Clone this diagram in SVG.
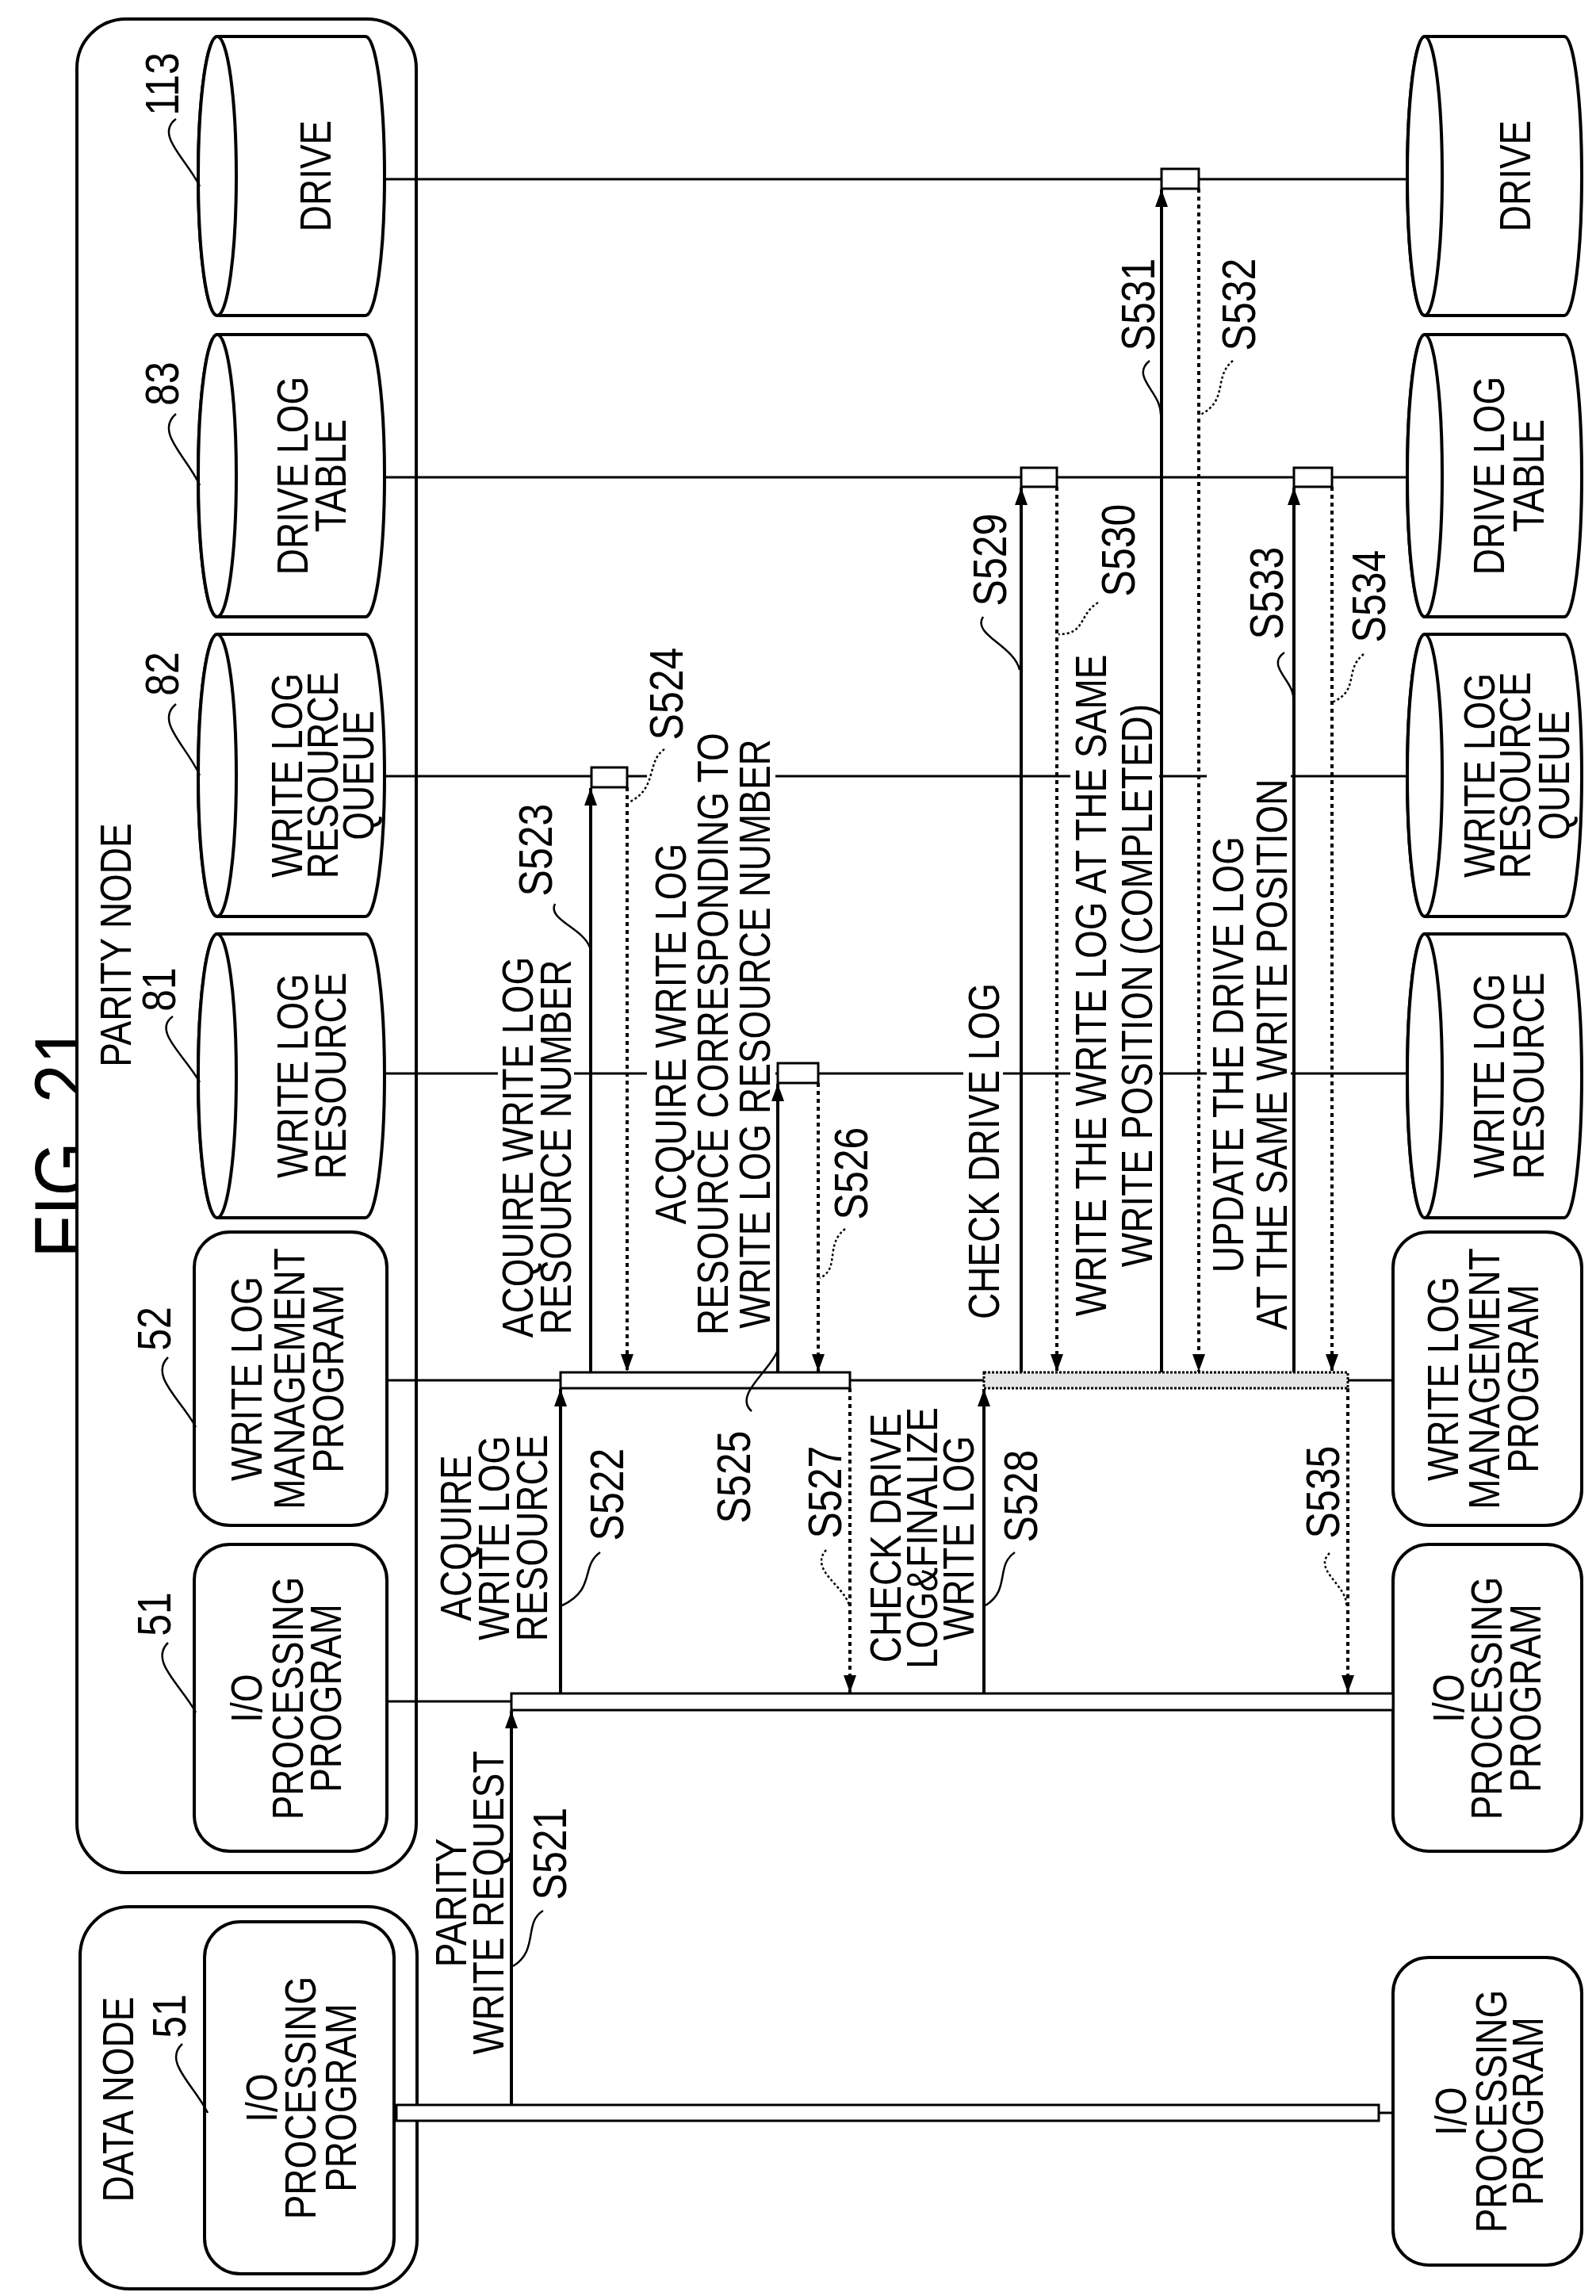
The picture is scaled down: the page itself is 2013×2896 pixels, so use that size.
<svg xmlns="http://www.w3.org/2000/svg" width="2013" height="2896" viewBox="0 0 2013 2896">
<style>
text{font-family:"Liberation Sans",Arial,sans-serif;font-size:46px;text-anchor:middle;fill:#000}
.s{font-size:50px}
.fig{font-size:88px}
.shape{fill:#fff;stroke:#000;stroke-width:4}
.life{stroke:#000;stroke-width:3;fill:none}
.ar{stroke:#000;stroke-width:4;fill:none;marker-end:url(#ah)}
.dt{stroke:#000;stroke-width:4;fill:none;stroke-dasharray:5,5;marker-end:url(#ah)}
.ld{stroke:#000;stroke-width:2.5;fill:none}
.ldd{stroke:#000;stroke-width:2.5;fill:none;stroke-dasharray:3,3}
.box{fill:#fff;stroke:#000;stroke-width:3}
</style>
<defs>
<marker id="ah" markerUnits="userSpaceOnUse" markerWidth="24" markerHeight="20" refX="22" refY="10" orient="auto"><path d="M0,2 L22,10 L0,18 Z" fill="#000"/></marker>
<path id="cylL" d="M274,0 L461,0 A24,1 0 0 1 461,0"/>
</defs>

<text class="fig" transform="translate(115,1440) rotate(-90) scale(1,1.15)">FIG. 21</text>

<g id="parity-node"><rect x="97" y="24" width="428" height="2338" rx="62" class="shape"/>
<text transform="translate(165,1192) rotate(-90) scale(1,1.2)">PARITY NODE</text></g>
<g id="data-node"><rect x="101" y="2405" width="425" height="482" rx="62" class="shape"/>
<text transform="translate(168,2648) rotate(-90) scale(1,1.2)">DATA NODE</text></g>

<g id="lifelines">
<line class="life" x1="485" y1="226" x2="1778" y2="226"/>
<line class="life" x1="485" y1="602" x2="1778" y2="602"/>
<line class="life" x1="485" y1="979" x2="1778" y2="979"/>
<line class="life" x1="485" y1="1354" x2="1778" y2="1354"/>
<line class="life" x1="488" y1="1741" x2="1757" y2="1741"/>
<line class="life" x1="488" y1="2146" x2="1757" y2="2146"/>
<line class="life" x1="497" y1="2665" x2="1757" y2="2665"/>
</g>

<g id="label-gaps" fill="#fff">
<rect x="628" y="1215" width="96" height="465"/>
<rect x="816" y="940" width="162" height="730"/>
<rect x="1215" y="1240" width="50" height="425"/>
<rect x="1350" y="815" width="112" height="857"/>
<rect x="1522" y="960" width="106" height="740"/>
</g>

<!-- left heads -->
<g id="drive-113"><path class="shape" d="M274,46 L461,46 A24,176 0 0 1 461,398 L274,398 A24,176 0 0 1 274,46 Z"/><ellipse cx="274" cy="222" rx="24" ry="176" class="shape"/>
<text transform="translate(417,222) rotate(-90) scale(1,1.2)">DRIVE</text>
<text class="s" transform="translate(225,106) rotate(-90) scale(1,1.2)">113</text></g>
<g id="dlt-83"><path class="shape" d="M274,422 L461,422 A24,178 0 0 1 461,778 L274,778 A24,178 0 0 1 274,422 Z"/><ellipse cx="274" cy="600" rx="24" ry="178" class="shape"/>
<text transform="translate(388,600) rotate(-90) scale(1,1.2)">DRIVE LOG</text>
<text transform="translate(436,600) rotate(-90) scale(1,1.2)">TABLE</text>
<text class="s" transform="translate(225,484) rotate(-90) scale(1,1.2)">83</text></g>
<g id="wlrq-82"><path class="shape" d="M274,800 L461,800 A24,178 0 0 1 461,1156 L274,1156 A24,178 0 0 1 274,800 Z"/><ellipse cx="274" cy="978" rx="24" ry="178" class="shape"/>
<text transform="translate(381,978) rotate(-90) scale(1,1.2)">WRITE LOG</text>
<text transform="translate(426,978) rotate(-90) scale(1,1.2)">RESOURCE</text>
<text transform="translate(471,978) rotate(-90) scale(1,1.2)">QUEUE</text>
<text class="s" transform="translate(225,850) rotate(-90) scale(1,1.2)">82</text></g>
<g id="wlr-81"><path class="shape" d="M274,1178 L461,1178 A24,179 0 0 1 461,1536 L274,1536 A24,179 0 0 1 274,1178 Z"/><ellipse cx="274" cy="1357" rx="24" ry="179" class="shape"/>
<text transform="translate(388,1357) rotate(-90) scale(1,1.2)">WRITE LOG</text>
<text transform="translate(436,1357) rotate(-90) scale(1,1.2)">RESOURCE</text>
<text class="s" transform="translate(221,1248) rotate(-90) scale(1,1.2)">81</text></g>
<g id="wlm-52"><rect x="245" y="1554" width="243" height="370" rx="45" class="shape"/>
<text transform="translate(330,1739) rotate(-90) scale(1,1.2)">WRITE LOG</text>
<text transform="translate(384,1739) rotate(-90) scale(1,1.2)">MANAGEMENT</text>
<text transform="translate(433,1739) rotate(-90) scale(1,1.2)">PROGRAM</text>
<text class="s" transform="translate(215,1676) rotate(-90) scale(1,1.2)">52</text></g>
<g id="io-51"><rect x="245" y="1948" width="243" height="387" rx="45" class="shape"/>
<text transform="translate(330,2142) rotate(-90) scale(1,1.2)">I/O</text>
<text transform="translate(382,2142) rotate(-90) scale(1,1.2)">PROCESSING</text>
<text transform="translate(430,2142) rotate(-90) scale(1,1.2)">PROGRAM</text>
<text class="s" transform="translate(215,2036) rotate(-90) scale(1,1.2)">51</text></g>
<g id="data-io-51"><rect x="258" y="2424" width="239" height="444" rx="45" class="shape"/>
<text transform="translate(349,2646) rotate(-90) scale(1,1.2)">I/O</text>
<text transform="translate(398,2646) rotate(-90) scale(1,1.2)">PROCESSING</text>
<text transform="translate(449,2646) rotate(-90) scale(1,1.2)">PROGRAM</text>
<text class="s" transform="translate(234,2543) rotate(-90) scale(1,1.2)">51</text></g>

<g id="leaders-num">
<path class="ld" d="M222,150 C195,170 235,200 252,235"/>
<path class="ld" d="M222,522 C195,545 235,575 252,612"/>
<path class="ld" d="M222,888 C195,910 235,940 252,978"/>
<path class="ld" d="M218,1282 C192,1300 232,1330 252,1365"/>
<path class="ld" d="M212,1712 C188,1735 228,1765 247,1800"/>
<path class="ld" d="M212,2072 C188,2095 228,2125 247,2160"/>
<path class="ld" d="M230,2578 C205,2600 245,2630 262,2665"/>
</g>

<!-- right heads -->
<g id="drive-r"><path class="shape" d="M1797,46 L1973,46 A22,176 0 0 1 1973,398 L1797,398 A22,176 0 0 1 1797,46 Z"/><ellipse cx="1797" cy="222" rx="22" ry="176" class="shape"/>
<text transform="translate(1930,222) rotate(-90) scale(1,1.2)">DRIVE</text></g>
<g id="dlt-r"><path class="shape" d="M1797,422 L1973,422 A22,178 0 0 1 1973,778 L1797,778 A22,178 0 0 1 1797,422 Z"/><ellipse cx="1797" cy="600" rx="22" ry="178" class="shape"/>
<text transform="translate(1897,600) rotate(-90) scale(1,1.2)">DRIVE LOG</text>
<text transform="translate(1947,600) rotate(-90) scale(1,1.2)">TABLE</text></g>
<g id="wlrq-r"><path class="shape" d="M1797,800 L1973,800 A22,178 0 0 1 1973,1156 L1797,1156 A22,178 0 0 1 1797,800 Z"/><ellipse cx="1797" cy="978" rx="22" ry="178" class="shape"/>
<text transform="translate(1885,978) rotate(-90) scale(1,1.2)">WRITE LOG</text>
<text transform="translate(1930,978) rotate(-90) scale(1,1.2)">RESOURCE</text>
<text transform="translate(1979,978) rotate(-90) scale(1,1.2)">QUEUE</text></g>
<g id="wlr-r"><path class="shape" d="M1797,1178 L1973,1178 A22,179 0 0 1 1973,1536 L1797,1536 A22,179 0 0 1 1797,1178 Z"/><ellipse cx="1797" cy="1357" rx="22" ry="179" class="shape"/>
<text transform="translate(1897,1357) rotate(-90) scale(1,1.2)">WRITE LOG</text>
<text transform="translate(1947,1357) rotate(-90) scale(1,1.2)">RESOURCE</text></g>
<g id="wlm-r"><rect x="1757" y="1554" width="238" height="370" rx="45" class="shape"/>
<text transform="translate(1839,1739) rotate(-90) scale(1,1.2)">WRITE LOG</text>
<text transform="translate(1891,1739) rotate(-90) scale(1,1.2)">MANAGEMENT</text>
<text transform="translate(1940,1739) rotate(-90) scale(1,1.2)">PROGRAM</text></g>
<g id="io-r"><rect x="1757" y="1948" width="238" height="387" rx="45" class="shape"/>
<text transform="translate(1846,2142) rotate(-90) scale(1,1.2)">I/O</text>
<text transform="translate(1894,2142) rotate(-90) scale(1,1.2)">PROCESSING</text>
<text transform="translate(1943,2142) rotate(-90) scale(1,1.2)">PROGRAM</text></g>
<g id="data-io-r"><rect x="1757" y="2469" width="238" height="388" rx="45" class="shape"/>
<text transform="translate(1849,2663) rotate(-90) scale(1,1.2)">I/O</text>
<text transform="translate(1900,2663) rotate(-90) scale(1,1.2)">PROCESSING</text>
<text transform="translate(1946,2663) rotate(-90) scale(1,1.2)">PROGRAM</text></g>

<!-- activation bars and boxes -->
<g id="bars">
<rect class="box" x="500" y="2655" width="1239" height="20"/>
<rect class="box" x="645" y="2136" width="1112" height="21"/>
<rect class="box" x="707" y="1731" width="365" height="20"/>
<rect x="1241" y="1731" width="459" height="20" fill="#e6e6e6" stroke="#000" stroke-width="3" stroke-dasharray="3,2"/>
<rect class="box" x="746" y="968" width="45" height="25"/>
<rect class="box" x="981" y="1341" width="51" height="25"/>
<rect class="box" x="1288" y="590" width="45" height="24"/>
<rect class="box" x="1632" y="590" width="48" height="24"/>
<rect class="box" x="1465" y="213" width="47" height="25"/>
</g>

<g id="connectors">
<line class="ar" x1="645" y1="2655" x2="645" y2="2158"/>
<line class="ar" x1="707" y1="2136" x2="707" y2="1752"/>
<line class="ar" x1="745" y1="1731" x2="745" y2="994"/>
<line class="dt" x1="791" y1="993" x2="791" y2="1730"/>
<line class="ar" x1="981" y1="1731" x2="981" y2="1367"/>
<line class="dt" x1="1032" y1="1366" x2="1032" y2="1730"/>
<line class="dt" x1="1072" y1="1751" x2="1072" y2="2135"/>
<line class="ar" x1="1241" y1="2136" x2="1241" y2="1752"/>
<line class="ar" x1="1288" y1="1731" x2="1288" y2="615"/>
<line class="dt" x1="1333" y1="614" x2="1333" y2="1730"/>
<line class="ar" x1="1465" y1="1731" x2="1465" y2="239"/>
<line class="dt" x1="1512" y1="238" x2="1512" y2="1730"/>
<line class="ar" x1="1632" y1="1731" x2="1632" y2="615"/>
<line class="dt" x1="1680" y1="614" x2="1680" y2="1730"/>
<line class="dt" x1="1700" y1="1751" x2="1700" y2="2135"/>
<path class="ld" d="M685,2410 C660,2425 680,2460 647,2480"/>
<path class="ld" d="M757,1958 C732,1975 752,2005 709,2025"/>
<path class="ld" d="M700,1140 C690,1160 735,1170 744,1195"/>
<path class="ldd" d="M838,945 C815,960 830,995 793,1012"/>
<path class="ld" d="M948,1780 C925,1760 970,1730 980,1705"/>
<path class="ldd" d="M1066,1550 C1040,1570 1060,1600 1034,1612"/>
<path class="ldd" d="M1042,1955 C1020,1980 1065,2000 1071,2025"/>
<path class="ld" d="M1280,1958 C1255,1975 1275,2005 1243,2025"/>
<path class="ld" d="M1240,778 C1225,800 1280,815 1286,845"/>
<path class="ldd" d="M1385,760 C1360,775 1370,800 1335,800"/>
<path class="ld" d="M1450,455 C1425,475 1465,495 1464,523"/>
<path class="ldd" d="M1555,455 C1530,475 1550,505 1514,523"/>
<path class="ld" d="M1620,823 C1595,840 1635,860 1631,884"/>
<path class="ldd" d="M1720,825 C1695,845 1715,870 1682,885"/>
<path class="ldd" d="M1677,1959 C1655,1980 1700,2000 1698,2025"/>
</g>

<g id="labels">
<text transform="translate(588,2400) rotate(-90) scale(1,1.2)">PARITY</text>
<text transform="translate(635,2400) rotate(-90) scale(1,1.2)">WRITE REQUEST</text>
<text class="s" transform="translate(714,2338) rotate(-90) scale(1,1.2)">S521</text>
<text transform="translate(594,1940) rotate(-90) scale(1,1.2)">ACQUIRE</text>
<text transform="translate(642,1940) rotate(-90) scale(1,1.2)">WRITE LOG</text>
<text transform="translate(690,1940) rotate(-90) scale(1,1.2)">RESOURCE</text>
<text class="s" transform="translate(786,1885) rotate(-90) scale(1,1.2)">S522</text>
<text transform="translate(672,1447) rotate(-90) scale(1,1.2)">ACQUIRE WRITE LOG</text>
<text transform="translate(720,1447) rotate(-90) scale(1,1.2)">RESOURCE NUMBER</text>
<text class="s" transform="translate(696,1072) rotate(-90) scale(1,1.2)">S523</text>
<text transform="translate(865,1304) rotate(-90) scale(1,1.2)">ACQUIRE WRITE LOG</text>
<text transform="translate(918,1304) rotate(-90) scale(1,1.2)">RESOURCE CORRESPONDING TO</text>
<text transform="translate(971,1304) rotate(-90) scale(1,1.2)">WRITE LOG RESOURCE NUMBER</text>
<text class="s" transform="translate(861,875) rotate(-90) scale(1,1.2)">S524</text>
<text class="s" transform="translate(946,1863) rotate(-90) scale(1,1.2)">S525</text>
<text class="s" transform="translate(1094,1480) rotate(-90) scale(1,1.2)">S526</text>
<text class="s" transform="translate(1061,1882) rotate(-90) scale(1,1.2)">S527</text>
<text transform="translate(1136,1940) rotate(-90) scale(1,1.2)">CHECK DRIVE</text>
<text transform="translate(1182,1940) rotate(-90) scale(1,1.2)">LOG&amp;FINALIZE</text>
<text transform="translate(1228,1940) rotate(-90) scale(1,1.2)">WRITE LOG</text>
<text class="s" transform="translate(1308,1887) rotate(-90) scale(1,1.2)">S528</text>
<text transform="translate(1260,1452) rotate(-90) scale(1,1.2)">CHECK DRIVE LOG</text>
<text class="s" transform="translate(1269,706) rotate(-90) scale(1,1.2)">S529</text>
<text transform="translate(1395,1243) rotate(-90) scale(1,1.2)">WRITE THE WRITE LOG AT THE SAME</text>
<text transform="translate(1453,1243) rotate(-90) scale(1,1.2)">WRITE POSITION (COMPLETED)</text>
<text class="s" transform="translate(1431,694) rotate(-90) scale(1,1.2)">S530</text>
<text class="s" transform="translate(1456,384) rotate(-90) scale(1,1.2)">S531</text>
<text class="s" transform="translate(1583,384) rotate(-90) scale(1,1.2)">S532</text>
<text transform="translate(1568,1330) rotate(-90) scale(1,1.2)">UPDATE THE DRIVE LOG</text>
<text transform="translate(1623,1330) rotate(-90) scale(1,1.2)">AT THE SAME WRITE POSITION</text>
<text class="s" transform="translate(1618,748) rotate(-90) scale(1,1.2)">S533</text>
<text class="s" transform="translate(1747,752) rotate(-90) scale(1,1.2)">S534</text>
<text class="s" transform="translate(1689,1882) rotate(-90) scale(1,1.2)">S535</text>
</g>
</svg>
